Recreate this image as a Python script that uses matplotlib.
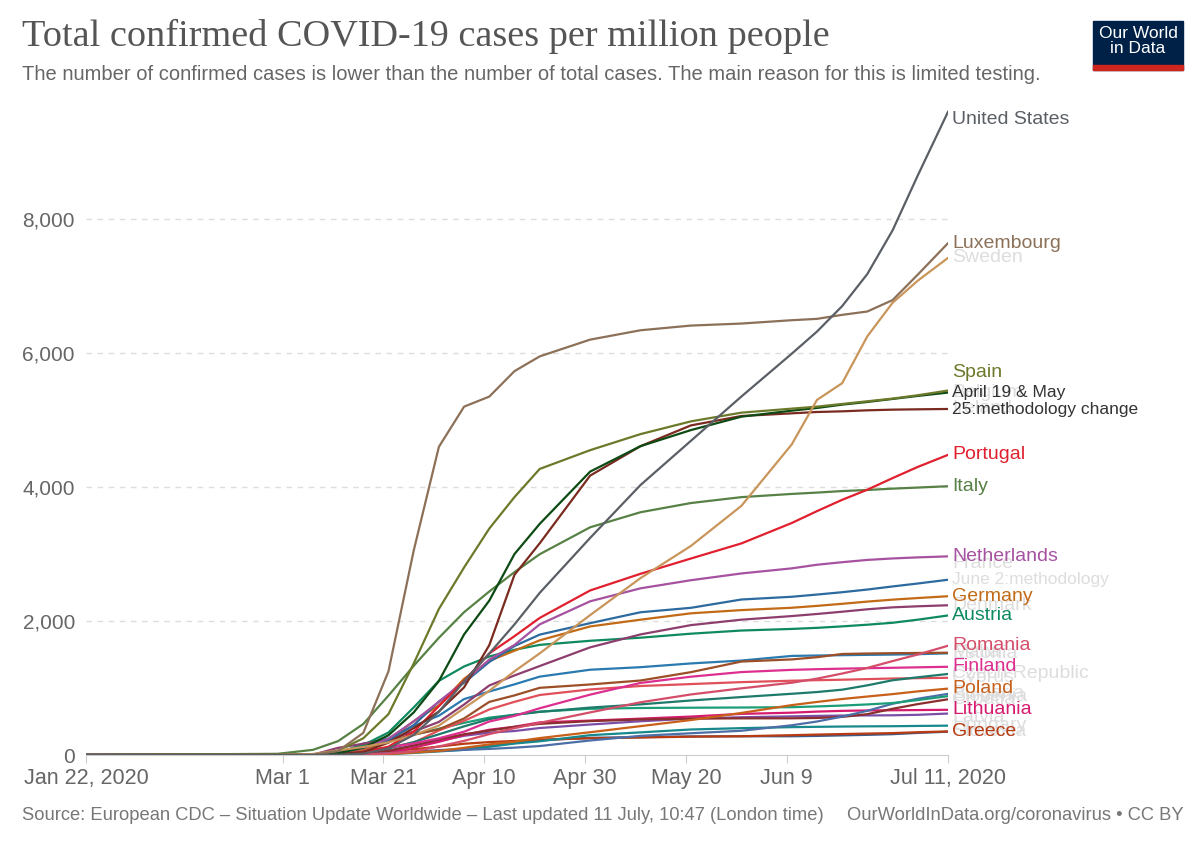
import pandas as pd
from matplotlib import pyplot as plt
from matplotlib.patches import Rectangle

# sample dates the values below were read at
dates = ['2020-01-22', '2020-02-29', '2020-03-07', '2020-03-12', '2020-03-17', '2020-03-22', '2020-03-27',
         '2020-04-01', '2020-04-06', '2020-04-11', '2020-04-16', '2020-04-21', '2020-05-01', '2020-05-11',
         '2020-05-21', '2020-05-31', '2020-06-10', '2020-06-15', '2020-06-20', '2020-06-25', '2020-06-30',
         '2020-07-05', '2020-07-11']

# total confirmed cases per million
united_states = [0, 0, 1, 5, 20, 100, 300, 645, 1100, 1515, 1950, 2420, 3240, 4030, 4690, 5350, 5990, 6320, 6700, 7180, 7830, 8650, 9600]
luxembourg = [0, 0, 5, 60, 330, 1250, 3050, 4600, 5200, 5350, 5730, 5950, 6200, 6340, 6410, 6440, 6490, 6510, 6570, 6620, 6790, 7170, 7640]
sweden = [0, 1, 15, 68, 120, 189, 300, 439, 700, 959, 1250, 1517, 2088, 2641, 3121, 3718, 4636, 5300, 5550, 6250, 6750, 7080, 7420]
spain = [0, 0, 3, 65, 250, 610, 1365, 2180, 2800, 3380, 3850, 4270, 4550, 4790, 4980, 5110, 5170, 5200, 5240, 5280, 5320, 5370, 5440]
belgium = [0, 0, 2, 27, 110, 295, 635, 1105, 1800, 2305, 3000, 3450, 4230, 4610, 4850, 5050, 5140, 5180, 5230, 5270, 5315, 5360, 5410]
ireland = [0, 0, 4, 14, 45, 185, 400, 650, 1010, 1640, 2690, 3160, 4170, 4610, 4920, 5060, 5100, 5120, 5130, 5145, 5155, 5160, 5165]
portugal = [0, 0, 0, 8, 44, 125, 347, 730, 1106, 1517, 1774, 2046, 2456, 2705, 2933, 3158, 3463, 3640, 3809, 3960, 4133, 4300, 4480]
italy = [0, 18, 77, 207, 463, 887, 1331, 1750, 2132, 2441, 2730, 2997, 3399, 3624, 3761, 3849, 3897, 3917, 3940, 3956, 3976, 3992, 4012]
netherlands = [0, 0, 11, 29, 100, 245, 502, 795, 1097, 1425, 1643, 1950, 2294, 2488, 2609, 2710, 2786, 2840, 2878, 2912, 2934, 2950, 2965]
france = [0, 1, 11, 45, 117, 221, 446, 798, 1079, 1389, 1627, 1797, 1968, 2131, 2197, 2321, 2362, 2395, 2430, 2470, 2516, 2560, 2616]
germany = [0, 1, 9, 28, 85, 222, 505, 739, 1138, 1404, 1557, 1712, 1919, 2020, 2115, 2163, 2198, 2226, 2257, 2290, 2319, 2343, 2370]
denmark = [0, 0, 4, 107, 169, 229, 349, 494, 754, 1038, 1188, 1328, 1607, 1800, 1939, 2020, 2074, 2105, 2139, 2175, 2204, 2220, 2235]
austria = [0, 1, 8, 34, 148, 336, 710, 1107, 1322, 1470, 1571, 1644, 1705, 1751, 1811, 1858, 1882, 1898, 1920, 1945, 1974, 2020, 2083]
romania = [0, 0, 1, 3, 8, 23, 53, 128, 211, 312, 401, 480, 636, 787, 904, 995, 1079, 1140, 1216, 1300, 1402, 1500, 1631]
malta = [0, 0, 0, 11, 86, 204, 303, 383, 546, 793, 890, 1003, 1053, 1112, 1237, 1395, 1427, 1460, 1508, 1515, 1520, 1523, 1527]
estonia = [0, 1, 8, 20, 170, 246, 434, 587, 835, 948, 1055, 1170, 1273, 1311, 1367, 1410, 1479, 1485, 1490, 1495, 1499, 1505, 1518]
finland = [0, 1, 3, 20, 58, 113, 173, 250, 348, 500, 584, 698, 901, 1076, 1169, 1238, 1271, 1281, 1289, 1296, 1302, 1309, 1317]
czech_republic = [0, 0, 1, 9, 41, 98, 193, 309, 428, 535, 601, 644, 708, 756, 814, 865, 914, 940, 975, 1040, 1116, 1160, 1210]
cyprus = [0, 0, 0, 7, 53, 109, 185, 366, 510, 680, 794, 896, 979, 1030, 1059, 1088, 1109, 1117, 1124, 1133, 1142, 1147, 1152]
poland = [0, 0, 0, 1, 5, 14, 37, 61, 108, 158, 200, 253, 340, 431, 522, 628, 745, 792, 836, 873, 909, 950, 991]
slovenia = [0, 0, 5, 46, 132, 199, 304, 392, 480, 558, 600, 647, 690, 702, 706, 709, 714, 725, 738, 755, 776, 820, 879]
bulgaria = [0, 0, 0, 1, 7, 27, 42, 61, 77, 91, 110, 134, 217, 286, 325, 362, 444, 500, 573, 660, 765, 840, 913]
croatia = [0, 1, 3, 8, 16, 62, 140, 235, 310, 364, 420, 465, 506, 530, 544, 547, 548, 553, 569, 610, 690, 760, 832]
lithuania = [0, 0, 0, 1, 5, 25, 110, 197, 298, 377, 422, 487, 514, 543, 574, 614, 632, 648, 659, 665, 668, 671, 675]
latvia = [0, 0, 1, 9, 32, 66, 148, 211, 287, 334, 358, 403, 455, 504, 543, 564, 577, 584, 589, 591, 593, 600, 619]
hungary = [0, 0, 1, 2, 5, 14, 31, 54, 77, 123, 171, 205, 296, 338, 381, 401, 416, 421, 425, 428, 430, 434, 438]
greece = [0, 1, 4, 9, 37, 60, 86, 126, 168, 193, 210, 230, 249, 261, 274, 280, 296, 305, 313, 320, 327, 340, 352]
slovakia = [0, 0, 0, 3, 18, 34, 49, 73, 89, 131, 179, 220, 257, 267, 277, 280, 280, 285, 293, 301, 311, 330, 348]

# name, values, line colour, label shown in colour (otherwise greyed out as overlapping)
series = [
    ('Slovakia', slovakia, '#3b5b8c', False),
    ('Greece', greece, '#b83b12', True),
    ('Hungary', hungary, '#17898c', False),
    ('Latvia', latvia, '#7b4fa8', False),
    ('Lithuania', lithuania, '#d61b6e', True),
    ('Croatia', croatia, '#8b2e2e', False),
    ('Bulgaria', bulgaria, '#4c6fa8', False),
    ('Slovenia', slovenia, '#1b9e77', False),
    ('Poland', poland, '#c8601a', True),
    ('Cyprus', cyprus, '#e0505a', False),
    ('Czech Republic', czech_republic, '#1e7a6a', False),
    ('Finland', finland, '#dc2f8f', True),
    ('Estonia', estonia, '#2a7ab0', False),
    ('Malta', malta, '#9c4f27', False),
    ('Romania', romania, '#d44e6a', True),
    ('Austria', austria, '#0f8a5f', True),
    ('Denmark', denmark, '#8d3e6e', False),
    ('Germany', germany, '#c26a16', True),
    ('France', france, '#2d6a9f', False),
    ('Netherlands', netherlands, '#a652a0', True),
    ('Italy', italy, '#578145', True),
    ('Portugal', portugal, '#e0202e', True),
    ('Ireland', ireland, '#7a2a1f', False),
    ('Belgium', belgium, '#0d4a14', False),
    ('Spain', spain, '#6b7a2a', True),
    ('Sweden', sweden, '#c9955a', False),
    ('Luxembourg', luxembourg, '#8c7058', True),
    ('United States', united_states, '#5a5f66', True),
]

# label nudges (data units) where the labels were pushed apart
label_nudge = {'United States': -120, 'Spain': 270, 'France': 250, 'Latvia': -60}
notes = {'Spain': ('April 19 & May\n25:methodology change', -160, '#333333'),
         'France': ('June 2:methodology', 0, '#dddddd')}

tick_dates = ['2020-01-22', '2020-03-01', '2020-03-21', '2020-04-10', '2020-04-30', '2020-05-20', '2020-06-09', '2020-07-11']
tick_labels = ['Jan 22, 2020', 'Mar 1', 'Mar 21', 'Apr 10', 'Apr 30', 'May 20', 'Jun 9', 'Jul 11, 2020']

plt.rcParams['font.family'] = ['Liberation Sans', 'DejaVu Sans']

x = pd.to_datetime(dates)
fig = plt.figure(figsize=(12, 8.47), dpi=100)
ax = fig.add_axes([0.0717, 0.1086, 0.7183, 0.7633])

for name, values, color, shown in series:
    ax.plot(x, values, color=color, linewidth=1.6, solid_joinstyle='round', zorder=3)

grey_label = '#dddddd'
for name, values, color, shown in series:
    y = values[-1] + label_nudge.get(name, 0)
    ax.annotate(name, xy=(x[-1], y), xytext=(3, 0), textcoords='offset points',
                va='center', ha='left', fontsize=14, color=color if shown else grey_label,
                zorder=5 if shown else 4, annotation_clip=False)
    if name in notes:
        text, dy, ncolor = notes[name]
        ax.annotate(text, xy=(x[-1], values[-1] + dy), xytext=(3, 0), textcoords='offset points',
                    va='center', ha='left', fontsize=12.5, color=ncolor, linespacing=1.2,
                    zorder=6, annotation_clip=False)

ax.set_xlim(x[0], x[-1])
ax.set_ylim(0, 9650)
ax.set_yticks([0, 2000, 4000, 6000, 8000])
ax.set_yticklabels(['0', '2,000', '4,000', '6,000', '8,000'])
ax.set_xticks(pd.to_datetime(tick_dates))
ax.set_xticklabels(tick_labels)
for yv in [2000, 4000, 6000, 8000]:
    ax.axhline(yv, color='#dddddd', linewidth=1, linestyle=(0, (4, 4)), zorder=1)

for side in ['top', 'right', 'left']:
    ax.spines[side].set_visible(False)
ax.spines['bottom'].set_color('#cccccc')
ax.tick_params(axis='y', length=0, pad=8, labelsize=15, labelcolor='#666666')
ax.tick_params(axis='x', length=6, color='#cccccc', pad=3, labelsize=15.5, labelcolor='#666666')

fig.text(0.018, 0.946, 'Total confirmed COVID-19 cases per million people', family='Liberation Serif',
         fontsize=27.5, color='#555555', va='baseline')
fig.text(0.018, 0.906, 'The number of confirmed cases is lower than the number of total cases. '
         'The main reason for this is limited testing.', fontsize=14.5, color='#666666', va='baseline')
fig.text(0.018, 0.032, 'Source: European CDC \u2013 Situation Update Worldwide \u2013 Last updated 11 July, 10:47 (London time)',
         fontsize=13.2, color='#777777', va='baseline')
fig.text(0.986, 0.032, 'OurWorldInData.org/coronavirus \u2022 CC BY', fontsize=13.2, color='#777777',
         va='baseline', ha='right')

# logo
fig.patches.append(Rectangle((0.9108, 0.9174), 0.075, 0.0578, transform=fig.transFigure, color='#002147'))
fig.patches.append(Rectangle((0.9108, 0.9174), 0.075, 0.0059, transform=fig.transFigure, color='#ce261e'))
fig.text(0.9483, 0.9515, 'Our World\nin Data', ha='center', va='center', color='white', fontsize=12.5,
         linespacing=1.05)

fig.savefig('out.png', dpi=100)
